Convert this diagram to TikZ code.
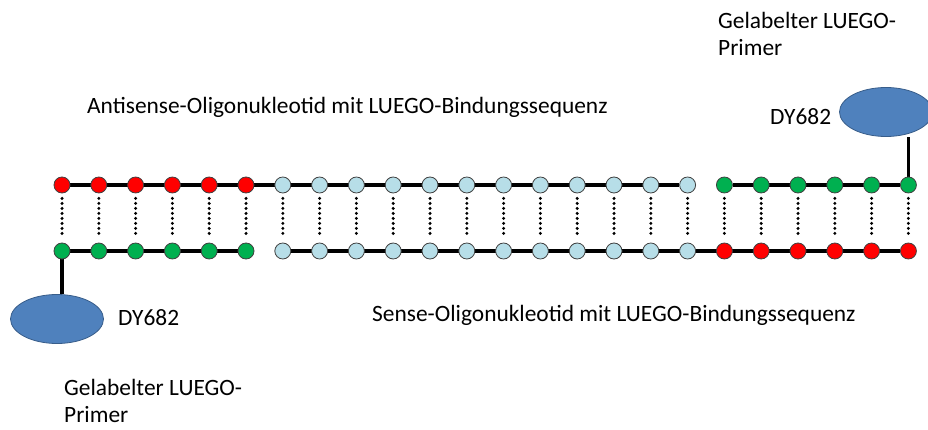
\documentclass[tikz,border=0pt]{standalone}
\usepackage{fontspec}
\setmainfont{Carlito}
\usetikzlibrary{shapes.geometric,backgrounds}
\definecolor{nred}{HTML}{FF0000}
\definecolor{ngreen}{HTML}{00B050}
\definecolor{nblue}{HTML}{B7DEE8}
\definecolor{efill}{HTML}{4F81BD}
\definecolor{edraw}{HTML}{385D8A}
\begin{document}
\begin{tikzpicture}[x=1pt,y=-1pt,
  base/.style={circle,draw=black!75,line width=0.8pt,minimum size=16pt,inner sep=0pt},
  nr/.style={base,fill=nred},
  ng/.style={base,fill=ngreen},
  nb/.style={base,fill=nblue},
  strand/.style={line width=3.2pt,black},
  pair/.style={line width=3.3pt,dash pattern=on 0pt off 5pt,line cap=round,shorten <=5pt,shorten >=5pt},
  blob/.style={ellipse,fill=efill,draw=edraw,line width=0.8pt,minimum width=93pt,minimum height=49pt,inner sep=0pt},
  lbl/.style={inner sep=0pt,font=\fontsize{23.4}{27}\selectfont,align=left}
]
\useasboundingbox (0,0) rectangle (928,430);
% top strand
\foreach \c [count=\i from 0] in {nr,nr,nr,nr,nr,nr,nb,nb,nb,nb,nb,nb,nb,nb,nb,nb,nb,nb,ng,ng,ng,ng,ng,ng}{
  \node[\c] (t\i) at ({62+36.8*\i},185) {};
}
% bottom strand
\foreach \c [count=\i from 0] in {ng,ng,ng,ng,ng,ng,nb,nb,nb,nb,nb,nb,nb,nb,nb,nb,nb,nb,nr,nr,nr,nr,nr,nr}{
  \node[\c] (b\i) at ({62+36.8*\i},251) {};
}
\begin{scope}[on background layer]
  \draw[strand] (t0) -- (t17);
  \draw[strand] (t18) -- (t23);
  \draw[strand] (b0) -- (b5);
  \draw[strand] (b6) -- (b23);
\end{scope}
\foreach \i in {0,...,23}{
  \draw[pair] (t\i) -- (b\i);
}
% labels (fluorophores)
\node[blob] (eL) at (57,319) {};
\node[blob] (eR) at (886,112) {};
\begin{scope}[on background layer]
  \draw[strand] (b0.center) -- (b0 |- eL.north);
  \draw[strand] (t23.center) -- (t23 |- eR.south);
\end{scope}
% texts
\node[lbl,anchor=west] (anti) at (87,107) {Antisense-Oligonukleotid mit LUEGO-Bindungssequenz};
\node[lbl,anchor=west] (sense) at (372,315) {Sense-Oligonukleotid mit LUEGO-Bindungssequenz};
\node[lbl,anchor=west] (dyL) at (118,318) {DY682};
\node[lbl,anchor=west] (dyR) at (770,117) {DY682};
\node[lbl,anchor=west] (primL) at (64,401) {Gelabelter LUEGO-\\Primer};
\node[lbl,anchor=west] (primR) at (718,34) {Gelabelter LUEGO-\\Primer};
\end{tikzpicture}
\end{document}
